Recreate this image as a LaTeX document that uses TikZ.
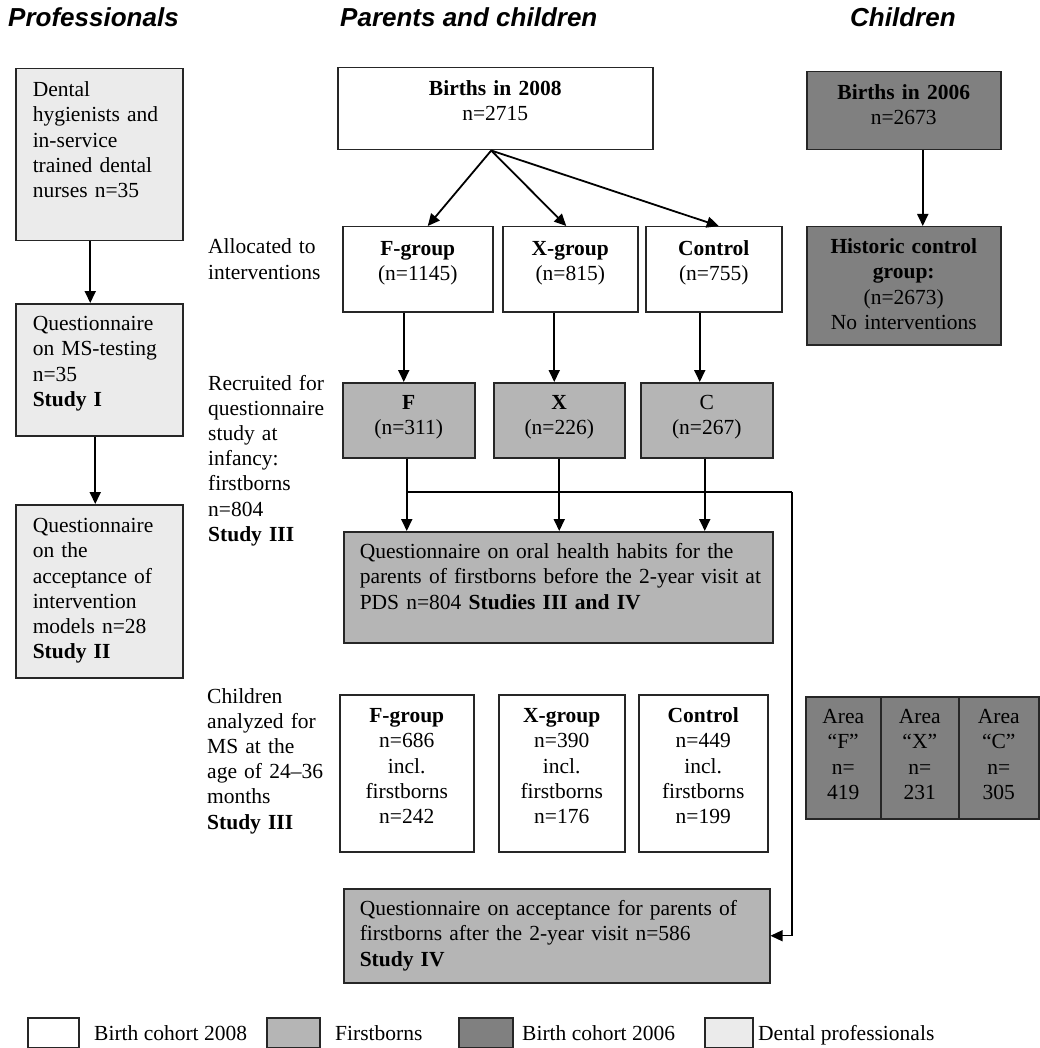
\documentclass[tikz,border=0pt]{standalone}
\usepackage{fontspec}
\setmainfont{Liberation Serif}
\newfontfamily\headfont{Liberation Sans}
\usepackage{tikz}
\usetikzlibrary{arrows.meta}
\definecolor{firstgray}{gray}{0.71}
\definecolor{cohortgray}{gray}{0.50}
\definecolor{dentgray}{gray}{0.92}

\begin{document}
\begin{tikzpicture}[x=1pt,y=-1pt,
  every node/.style={font=\fontsize{21.5}{25.2}\selectfont},
  >={Triangle[length=12pt,width=11pt]},
  box/.style={draw=black!85,line width=1.5pt,anchor=north west,inner ysep=0pt},
  lbl/.style={anchor=base west,inner sep=0pt,align=left,text width=135pt},
  head/.style={anchor=base west,inner sep=0pt,font=\headfont\bfseries\itshape\fontsize{26}{30}\selectfont},
  conn/.style={line width=1.8pt}]
\useasboundingbox (0,0) rectangle (1039,1048);
% 제목
\node[head] (hprof) at (8,27) {Professionals};
\node[head] (hpar) at (340,27) {Parents and children};
\node[head] (hchi) at (850,27) {Children};
% 전문가
\node[box,fill=dentgray,inner xsep=17pt,text width=133pt,text height=28pt,text depth=144pt,align=left] (den) at (15,68)
  {Dental\\hygienists and\\in-service\\trained dental\\nurses n=35};
\node[box,fill=dentgray,inner xsep=17pt,text width=133pt,text height=27pt,text depth=105pt,align=left] (msq) at (15,303)
  {Questionnaire\\on MS-testing\\n=35\\\textbf{Study I}};
\node[box,fill=dentgray,inner xsep=17pt,text width=133pt,text height=28pt,text depth=145pt,align=left] (acc) at (15,504)
  {Questionnaire\\on the\\acceptance of\\intervention\\models n=28\\\textbf{Study II}};
\draw[conn,->] ([xshift=-9pt]den.south) -- ([xshift=-9pt]msq.north);
\draw[conn,->] ([xshift=-4pt]msq.south) -- ([xshift=-4pt]acc.north);
% 단계 라벨
\node[lbl] (alloc) at (208,254) {Allocated to\\interventions};
\node[lbl] (recr) at (208,390) {Recruited for\\questionnaire\\study at\\infancy:\\firstborns\\n=804\\\textbf{Study III}};
\node[lbl] (anal) at (207,703) {Children\\analyzed for\\MS at the\\age of 24--36\\months\\\textbf{Study III}};
% 2008 출생
\node[box,fill=white,inner xsep=4pt,text width=307pt,text height=28pt,text depth=54pt,align=center] (b08) at (337,67)
  {\textbf{Births in 2008}\\n=2715};
\node[box,fill=white,inner xsep=4pt,text width=142pt,text height=29pt,text depth=56pt,align=center] (fg) at (342,226)
  {\textbf{F-group}\\(n=1145)};
\node[box,fill=white,inner xsep=4pt,text width=127pt,text height=29pt,text depth=56pt,align=center] (xg) at (502,226)
  {\textbf{X-group}\\(n=815)};
\node[box,fill=white,inner xsep=4pt,text width=128pt,text height=29pt,text depth=56pt,align=center] (cg) at (645,226)
  {\textbf{Control}\\(n=755)};
\draw[conn,->] ([xshift=-4pt]b08.south) -- ([xshift=10pt]fg.north);
\draw[conn,->] ([xshift=-4pt]b08.south) -- ([xshift=-4pt]xg.north);
\draw[conn,->] ([xshift=-4pt]b08.south) -- ([xshift=5pt]cg.north);
% 첫째 아이
\node[box,fill=firstgray,inner xsep=4pt,text width=124pt,text height=27pt,text depth=48pt,align=center] (ff) at (342,382)
  {\textbf{F}\\(n=311)};
\node[box,fill=firstgray,inner xsep=4pt,text width=123pt,text height=27pt,text depth=48pt,align=center] (xf) at (493,382)
  {\textbf{X}\\(n=226)};
\node[box,fill=firstgray,inner xsep=4pt,text width=124pt,text height=27pt,text depth=48pt,align=center] (cf) at (640,382)
  {C\\(n=267)};
\draw[conn,->] ([xshift=-5pt]ff.north |- fg.south) -- ([xshift=-5pt]ff.north);
\draw[conn,->] ([xshift=-5pt]xf.north |- xg.south) -- ([xshift=-5pt]xf.north);
\draw[conn,->] ([xshift=-7pt]cf.north |- cg.south) -- ([xshift=-7pt]cf.north);
\node[box,fill=firstgray,inner xsep=16pt,text width=397pt,text height=27pt,text depth=84pt,align=left] (ohq) at (343,531)
  {Questionnaire on oral health habits for the\\\mbox{parents of firstborns before the 2-year visit at}\\PDS n=804 \textbf{Studies III and IV}};
\draw[conn,->] ([xshift=-2pt]ff.south) -- ([xshift=-2pt]ff.south |- ohq.north);
\draw[conn,->] (xf.south) -- (xf.south |- ohq.north);
\draw[conn,->] ([xshift=-2pt]cf.south) -- ([xshift=-2pt]cf.south |- ohq.north);
% 24-36개월 분석
\node[box,fill=white,inner xsep=4pt,text width=126pt,text height=28pt,text depth=129pt,align=center] (fa) at (339,694)
  {\textbf{F-group}\\n=686\\incl.\\firstborns\\n=242};
\node[box,fill=white,inner xsep=4pt,text width=118pt,text height=28pt,text depth=129pt,align=center] (xa) at (498,694)
  {\textbf{X-group}\\n=390\\incl.\\firstborns\\n=176};
\node[box,fill=white,inner xsep=4pt,text width=121pt,text height=28pt,text depth=129pt,align=center] (ca) at (638,694)
  {\textbf{Control}\\n=449\\incl.\\firstborns\\n=199};
\node[box,fill=firstgray,inner xsep=16pt,text width=394pt,text height=27pt,text depth=67pt,align=left] (aq) at (343,888)
  {Questionnaire on acceptance for parents of\\firstborns after the 2-year visit n=586\\\textbf{Study IV}};
\coordinate (turn) at (792,492);
\draw[conn] ([xshift=-2pt]ff.south |- turn) -- (turn);
\draw[line width=1.2pt,->] (turn) |- (aq.east);
% 2006 출생
\node[box,fill=cohortgray,inner xsep=4pt,text width=186pt,text height=28pt,text depth=50pt,align=center] (b06) at (806,71)
  {\textbf{Births in 2006}\\n=2673};
\node[box,fill=cohortgray,inner xsep=4pt,text width=186pt,text height=27pt,text depth=91pt,align=center] (hist) at (806,226)
  {\textbf{Historic control}\\\textbf{group:}\\(n=2673)\\No interventions};
\draw[conn,->] ([xshift=19pt]b06.south) -- ([xshift=19pt]hist.north);
\node[box,fill=cohortgray,inner xsep=2pt,text width=71pt,text height=27pt,text depth=95pt,align=center] (arf) at (805,696)
  {Area\\``F''\\n=\\419};
\node[box,fill=cohortgray,inner xsep=2pt,text width=74pt,text height=27pt,text depth=95pt,align=center] (arx) at (880,696)
  {Area\\``X''\\n=\\231};
\node[box,fill=cohortgray,inner xsep=2pt,text width=76pt,text height=27pt,text depth=95pt,align=center] (arc) at (958,696)
  {Area\\``C''\\n=\\305};
% 범례
\node[box,fill=white,inner sep=0pt,minimum width=51pt,minimum height=30pt] (k1) at (27,1017) {};
\node[box,fill=firstgray,inner sep=0pt,minimum width=53pt,minimum height=30pt] (k2) at (266,1017) {};
\node[box,fill=cohortgray,inner sep=0pt,minimum width=54pt,minimum height=30pt] (k3) at (458,1017) {};
\node[box,fill=dentgray,inner sep=0pt,minimum width=48pt,minimum height=30pt] (k4) at (704,1017) {};
\node[anchor=base west,inner sep=0pt] (l1) at (94,1040) {Birth cohort 2008};
\node[anchor=base west,inner sep=0pt] (l2) at (335,1040) {Firstborns};
\node[anchor=base west,inner sep=0pt] (l3) at (522,1040) {Birth cohort 2006};
\node[anchor=base west,inner sep=0pt] (l4) at (758,1040) {Dental professionals};
\end{tikzpicture}
\end{document}
